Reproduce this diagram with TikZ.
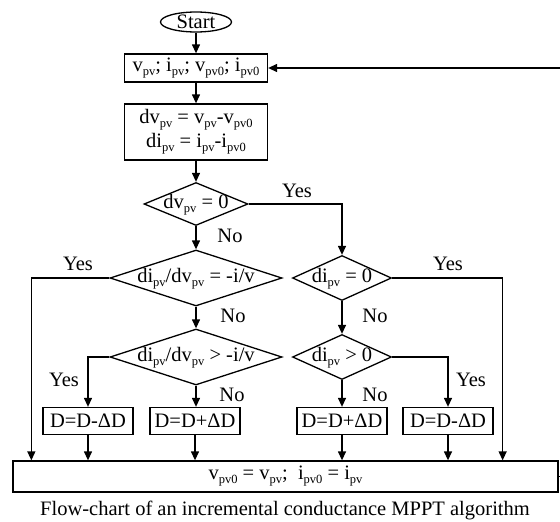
\documentclass[tikz,border=0pt]{standalone}
\usepackage{fontspec}
\setmainfont{Liberation Serif}
\usetikzlibrary{shapes.geometric,arrows.meta}
\newcommand{\cond}[1]{\makebox[0pt]{#1}}
\newcommand{\sub}[2]{#1\raisebox{-4pt}{\fontsize{12.5}{13}\selectfont #2}}
\tikzset{
  >={Triangle[length=9pt,width=8pt]},
  every node/.style={font=\fontsize{20.5}{24}\selectfont},
  process/.style={draw, rectangle, line width=1.3pt, inner sep=0pt},
  decision/.style={draw, diamond, line width=1.3pt, inner sep=0pt, text height=10pt, text depth=2pt},
  flow/.style={->, line width=1.3pt}
}
\begin{document}
\begin{tikzpicture}[x=1pt, y=-1pt]
    \useasboundingbox (0,0) rectangle (560,522);
    \node[draw, ellipse, line width=1.3pt, inner sep=0pt, minimum width=71pt, minimum height=20pt, text height=13pt, text depth=0pt] (start) at (196,22) {\cond{Start}};
    \node[process, minimum width=143pt, minimum height=28pt] (meas) at (196,68) {\sub{v}{pv}; \sub{i}{pv}; \sub{v}{pv0}; \sub{i}{pv0}};
    \node[process, minimum width=143pt, minimum height=56pt, align=center] (diff) at (196,132) {\sub{dv}{pv} = \sub{v}{pv}-\sub{v}{pv0}\\ \sub{di}{pv} = \sub{i}{pv}-\sub{i}{pv0}};
    \node[decision, minimum width=104pt, minimum height=43pt] (dvzero) at (196,204) {\cond{\sub{dv}{pv} = 0}};
    \node[decision, minimum width=172pt, minimum height=56pt] (ratioeq) at (196,278) {\cond{\sub{di}{pv}/\sub{dv}{pv} = -i/v}};
    \node[decision, minimum width=99pt, minimum height=45pt] (dizero) at (342,278) {\cond{\sub{di}{pv} = 0}};
    \node[decision, minimum width=172pt, minimum height=56pt] (ratiogt) at (196,357) {\cond{\sub{di}{pv}/\sub{dv}{pv} > -i/v}};
    \node[decision, minimum width=99pt, minimum height=45pt] (dipos) at (342,357) {\cond{\sub{di}{pv} > 0}};
    \node[process, minimum width=90pt, minimum height=27pt] (decA) at (88,421) {D=D-ΔD};
    \node[process, minimum width=90pt, minimum height=27pt] (incA) at (195,421) {D=D+ΔD};
    \node[process, minimum width=90pt, minimum height=27pt] (incB) at (342,421) {D=D+ΔD};
    \node[process, minimum width=90pt, minimum height=27pt] (decB) at (448,421) {D=D-ΔD};
    \node[process, minimum width=545pt, minimum height=31pt] (update) at (285.5,476.5) {\sub{v}{pv0} = \sub{v}{pv};\ \ \sub{i}{pv0} = \sub{i}{pv}};
    \node (caption) at (285,510) {Flow-chart of an incremental conductance MPPT algorithm};

    \node (yes1) at (297,191) {Yes};
    \node (no1) at (230,236) {No};
    \node (yes2) at (78,264) {Yes};
    \node (yes3) at (448,264) {Yes};
    \node (no2) at (233,316) {No};
    \node (no3) at (375,316) {No};
    \node (yes4) at (64,380) {Yes};
    \node (no4) at (232,395) {No};
    \node (no5) at (375,395) {No};
    \node (yes5) at (471,380) {Yes};

    \draw[flow] (start) -- (meas);
    \draw[flow] (meas) -- (diff);
    \draw[flow] (diff) -- (dvzero);
    \draw[flow] (dvzero) -- (ratioeq);
    \draw[flow] (dvzero.east) -| (dizero.north);
    \draw[flow] (ratioeq) -- (ratiogt);
    \draw[flow] (dizero) -- (dipos);
    \draw[flow] (ratioeq.west) -| ([xshift=19pt]update.north west);
    \draw[flow] (dizero.east) -| ([xshift=-56pt]update.north east);
    \draw[flow] (ratiogt.west) -| (decA.north);
    \draw[flow] (ratiogt.south) -- (incA.north -| ratiogt.south);
    \draw[flow] (dipos) -- (incB);
    \draw[flow] (dipos.east) -| (decB.north);
    \draw[flow] (decA) -- (decA |- update.north);
    \draw[flow] (incA) -- (incA |- update.north);
    \draw[flow] (incB) -- (incB |- update.north);
    \draw[flow] (decB) -- (decB |- update.north);
    \draw[flow] (update.east) -- ++(12,0) |- (meas.east);
\end{tikzpicture}
\end{document}
